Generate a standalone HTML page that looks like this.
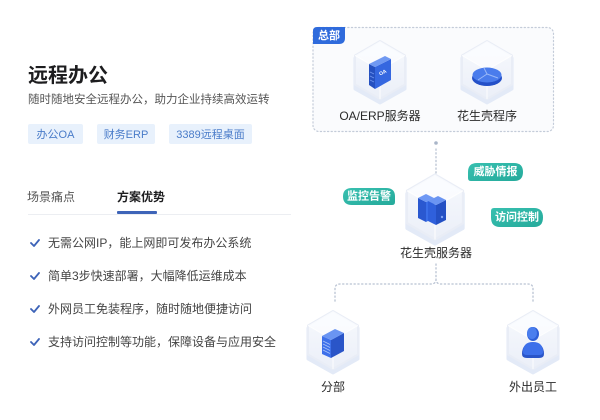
<!DOCTYPE html>
<html><head><meta charset="utf-8">
<style>
*{margin:0;padding:0;box-sizing:border-box}
html,body{width:600px;height:420px;background:#fff;overflow:hidden}
body{position:relative;font-family:"Liberation Sans","Noto Sans CJK SC",sans-serif;color:#222}
.a{position:absolute;white-space:nowrap}
.title{left:28px;top:64px;font-size:20px;line-height:24px;font-weight:bold;color:#1d1d1f}
.sub{left:28px;top:92px;font-size:11.5px;line-height:16px;color:#555}
.tag{position:absolute;top:124px;height:20px;background:#e8f1fc;color:#4a7cc9;font-size:11px;display:flex;align-items:center;justify-content:center;border-radius:2px}
.tab{top:189px;font-size:12px;line-height:16px;color:#555}
.tab.on{color:#1d1d1f;font-weight:bold}
.ul{position:absolute;left:117px;top:211px;width:40px;height:3px;background:#3e64b8;border-radius:1px}
.div{position:absolute;left:28px;top:214px;width:263px;height:1px;background:#eceef2}
.li{left:48px;font-size:12px;line-height:16px;color:#444}
.ck{position:absolute;left:30px;width:10px;height:8px}
</style></head><body>
<div class="a title">远程办公</div>
<div class="a sub">随时随地安全远程办公，助力企业持续高效运转</div>
<div class="tag" style="left:28px;width:55px">办公OA</div>
<div class="tag" style="left:97px;width:58px">财务ERP</div>
<div class="tag" style="left:169px;width:83px">3389远程桌面</div>
<div class="a tab" style="left:27px">场景痛点</div>
<div class="a tab on" style="left:117px">方案优势</div>
<div class="div"></div>
<div class="ul"></div>

<svg class="ck" style="top:239px" viewBox="0 0 10 8"><path d="M1 4 L4 7 L9 1" fill="none" stroke="#3d63b8" stroke-width="1.8" stroke-linecap="round" stroke-linejoin="round"/></svg>
<div class="a li" style="top:235px">无需公网IP，能上网即可发布办公系统</div>
<svg class="ck" style="top:272px" viewBox="0 0 10 8"><path d="M1 4 L4 7 L9 1" fill="none" stroke="#3d63b8" stroke-width="1.8" stroke-linecap="round" stroke-linejoin="round"/></svg>
<div class="a li" style="top:268px">简单3步快速部署，大幅降低运维成本</div>
<svg class="ck" style="top:305px" viewBox="0 0 10 8"><path d="M1 4 L4 7 L9 1" fill="none" stroke="#3d63b8" stroke-width="1.8" stroke-linecap="round" stroke-linejoin="round"/></svg>
<div class="a li" style="top:301px">外网员工免装程序，随时随地便捷访问</div>
<svg class="ck" style="top:338px" viewBox="0 0 10 8"><path d="M1 4 L4 7 L9 1" fill="none" stroke="#3d63b8" stroke-width="1.8" stroke-linecap="round" stroke-linejoin="round"/></svg>
<div class="a li" style="top:334px">支持访问控制等功能，保障设备与应用安全</div>

<svg style="position:absolute;left:0;top:0" width="600" height="420" viewBox="0 0 600 420">
<defs>
<linearGradient id="hg" x1="0" y1="0" x2="0" y2="1">
<stop offset="0" stop-color="#f7f9fd"/><stop offset="1" stop-color="#ebeff8"/>
</linearGradient>
<linearGradient id="tg" x1="0" y1="0" x2="1" y2="1">
<stop offset="0" stop-color="#38c0b0"/><stop offset="1" stop-color="#25aa9b"/>
</linearGradient>
<g id="cube">
<polygon points="0,-26 25,-12 25,19 0,33 -25,19 -25,-12" fill="#e3eaf7" stroke="#e3eaf7" stroke-width="3" stroke-linejoin="round"/>
<polygon points="0,-29 25,-14.5 25,14.5 0,29 -25,14.5 -25,-14.5" fill="url(#hg)" stroke="#e9edf6" stroke-width="2" stroke-linejoin="round"/>
<polygon points="0,-29 25,-14.5 0,0 -25,-14.5" fill="#fbfcff" opacity="0.8"/>
<path d="M0 0 L0 29 M0 0 L25 -14.5 M0 0 L-25 -14.5" stroke="#ffffff" stroke-width="1" opacity="0.9"/>
</g>
</defs>

<!-- HQ box -->
<rect x="313" y="27.5" width="240.5" height="104" rx="6" fill="#fafbfd" stroke="#c4ccd9" stroke-width="1.2" stroke-dasharray="1.2 2.4" stroke-linecap="round"/>
<path d="M313 44 L313 31 Q313 27 317 27 L345 27 L345 38 Q345 44 339 44 Z" fill="#2f6bdc"/>
<text x="329" y="36" font-size="11" font-weight="bold" fill="#fff" text-anchor="middle" dominant-baseline="central" font-family="Liberation Sans, Noto Sans CJK SC, sans-serif">总部</text>

<!-- OA icon -->
<use href="#cube" transform="translate(380,70)"/>
<g transform="translate(380,72)">
<polygon points="-11,-8 -5,-5 -5,17 -11,13" fill="#2550c0"/>
<polygon points="-5,-5 11,-13 11,8 -5,17" fill="#3567e0"/>
<polygon points="-11,-8 5,-16 11,-13 -5,-5" fill="#7099f2"/>
<path d="M-10 0 L-6 2 M-10 4 L-6 6 M-10 8 L-6 10" stroke="#6f95ee" stroke-width="0.8"/>
<text x="3" y="1" font-size="5" font-weight="bold" fill="#fff" text-anchor="middle" dominant-baseline="central" transform="rotate(-27 3 1)" font-family="Liberation Sans, sans-serif">OA</text>
</g>
<text x="380" y="116" font-size="12" fill="#2a2a2a" text-anchor="middle" dominant-baseline="central" font-family="Liberation Sans, Noto Sans CJK SC, sans-serif">OA/ERP服务器</text>

<!-- Peanut shell program icon -->
<use href="#cube" transform="translate(487,70)"/>
<g transform="translate(487,75)">
<ellipse cx="0" cy="3" rx="15" ry="8" fill="#2450c8"/>
<ellipse cx="0" cy="0" rx="14.5" ry="7.5" fill="#4a7cec"/>
<path d="M0 -1 L-3 -7 M0 -1 L11 3 M0 -1 L-9 5" stroke="#9ab8f7" stroke-width="1"/>
</g>
<text x="487" y="116" font-size="12" fill="#2a2a2a" text-anchor="middle" dominant-baseline="central" font-family="Liberation Sans, Noto Sans CJK SC, sans-serif">花生壳程序</text>

<!-- connectors -->
<circle cx="436" cy="143" r="1.8" fill="#a9b5c8"/>
<line x1="436" y1="149" x2="436" y2="174" stroke="#b8c2d2" stroke-width="1.3" stroke-dasharray="1.2 2.6" stroke-linecap="round"/>
<path d="M436 264 L436 279 Q436 284 431 284 L340 284 Q335 284 335 289 L335 303 M436 279 Q436 284 441 284 L528 284 Q533 284 533 289 L533 303" fill="none" stroke="#b8c2d2" stroke-width="1.3" stroke-dasharray="1.2 2.6" stroke-linecap="round"/>

<!-- center server -->
<g transform="translate(435,207) scale(1.12)"><use href="#cube"/></g>
<g transform="translate(433,208)">
<!-- box A -->
<polygon points="-15,-10 -7,-6 -7,14 -15,10" fill="#2a58d0"/>
<polygon points="-7,-6 1,-10 1,10 -7,14" fill="#3a6ee8"/>
<polygon points="-15,-10 -7,-14 1,-10 -7,-6" fill="#6e98f4"/>
<!-- box B -->
<g transform="translate(10,3)">
<polygon points="-15,-10 -7,-6 -7,14 -15,10" fill="#2f60dc"/>
<polygon points="-7,-6 3,-11 3,9 -7,14" fill="#2450c4"/>
<polygon points="-15,-10 -5,-15 3,-11 -7,-6" fill="#6a94f2"/>
<circle cx="-1" cy="6" r="1.2" fill="#7ea2f4"/>
</g>
</g>
<text x="436" y="253" font-size="12" fill="#2a2a2a" text-anchor="middle" dominant-baseline="central" font-family="Liberation Sans, Noto Sans CJK SC, sans-serif">花生壳服务器</text>

<!-- pills -->
<path d="M352 188 L386 188 Q395 188 395 196.5 L395 202 Q395 205 392 205 L352 205 Q343 205 343 196.5 Q343 188 352 188 Z" fill="url(#tg)"/>
<text x="369" y="196.5" font-size="11" font-weight="bold" fill="#fff" text-anchor="middle" dominant-baseline="central" font-family="Liberation Sans, Noto Sans CJK SC, sans-serif">监控告警</text>
<path d="M477 163 L514 163 Q523 163 523 172 Q523 181 514 181 L471 181 Q468 181 468 178 L468 172 Q468 163 477 163 Z" fill="url(#tg)"/>
<text x="495.5" y="172" font-size="11" font-weight="bold" fill="#fff" text-anchor="middle" dominant-baseline="central" font-family="Liberation Sans, Noto Sans CJK SC, sans-serif">威胁情报</text>
<path d="M494 208 L534 208 Q543 208 543 217.5 Q543 227 534 227 L500 227 Q491 227 491 217.5 L491 211 Q491 208 494 208 Z" fill="url(#tg)"/>
<text x="517" y="217.5" font-size="11" font-weight="bold" fill="#fff" text-anchor="middle" dominant-baseline="central" font-family="Liberation Sans, Noto Sans CJK SC, sans-serif">访问控制</text>

<!-- branch -->
<use href="#cube" transform="translate(333,340)"/>
<g transform="translate(333,342)">
<polygon points="-11,-6 -2,-2 -2,16 -11,12" fill="#3d70ea"/>
<polygon points="-2,-2 11,-9 11,9 -2,16" fill="#2a55c8"/>
<polygon points="-11,-6 2,-13 11,-9 -2,-2" fill="#6a95f2"/>
<path d="M-10 -1 L-3 2.5 M-10 2 L-3 5.5 M-10 5 L-3 8.5 M-10 8 L-3 11.5" stroke="#a9c2f8" stroke-width="0.9"/>
</g>
<text x="333" y="387" font-size="12" fill="#2a2a2a" text-anchor="middle" dominant-baseline="central" font-family="Liberation Sans, Noto Sans CJK SC, sans-serif">分部</text>

<!-- field staff -->
<use href="#cube" transform="translate(533,340)"/>
<g transform="translate(533,342)">
<path d="M-11 12 Q-11 1 0 1 Q11 1 11 12 Q11 16 6 16 L-6 16 Q-11 16 -11 12 Z" fill="#2a55c8"/>
<path d="M-10 10 Q-10 0 0 0 Q10 0 10 10 Q10 13 6 13 L-6 13 Q-10 13 -10 10 Z" fill="#3d70ea"/>
<ellipse cx="0" cy="-8" rx="6" ry="7" fill="#2e5fd8"/>
<ellipse cx="-1" cy="-9" rx="5" ry="6" fill="#4a7eee"/>
</g>
<text x="533" y="387" font-size="12" fill="#2a2a2a" text-anchor="middle" dominant-baseline="central" font-family="Liberation Sans, Noto Sans CJK SC, sans-serif">外出员工</text>
</svg>
</body></html>
